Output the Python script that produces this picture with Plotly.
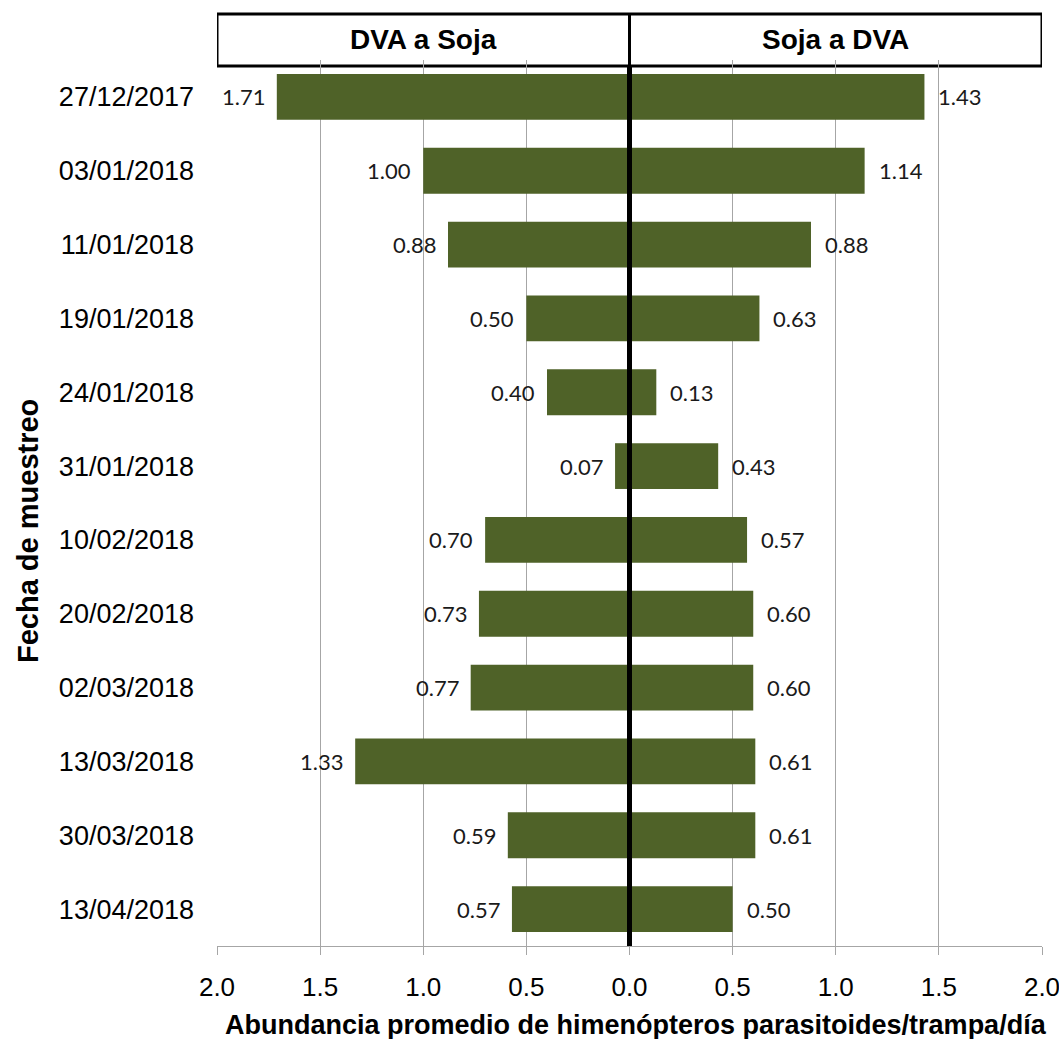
import plotly.graph_objects as go

fechas = ["27/12/2017", "03/01/2018", "11/01/2018", "19/01/2018", "24/01/2018",
          "31/01/2018", "10/02/2018", "20/02/2018", "02/03/2018", "13/03/2018",
          "30/03/2018", "13/04/2018"]
dva_a_soja = [1.71, 1.00, 0.88, 0.50, 0.40, 0.07, 0.70, 0.73, 0.77, 1.33, 0.59, 0.57]
soja_a_dva = [1.43, 1.14, 0.88, 0.63, 0.13, 0.43, 0.57, 0.60, 0.60, 0.61, 0.61, 0.50]
x_ticks = [-2.0, -1.5, -1.0, -0.5, 0.0, 0.5, 1.0, 1.5, 2.0]
x_ticktext = ["2.0", "1.5", "1.0", "0.5", "0.0", "0.5", "1.0", "1.5", "2.0"]

BAR = "#4F6228"
ARIAL = "Liberation Sans, Arial, sans-serif"
LABEL_FONT = dict(family="Lato, Open Sans, sans-serif", size=22, color="#1a1a1a")

W, H = 1059, 1039
L, R, T, B = 217, 17, 60, 93
plot_h = H - T - B
plot_w = W - L - R

fig = go.Figure()
fig.add_trace(go.Bar(y=fechas, x=[-v for v in dva_a_soja], orientation="h",
                     marker=dict(color=BAR, line=dict(width=0)), width=0.62,
                     name="DVA a Soja", hoverinfo="skip"))
fig.add_trace(go.Bar(y=fechas, x=soja_a_dva, orientation="h",
                     marker=dict(color=BAR, line=dict(width=0)), width=0.62,
                     name="Soja a DVA", hoverinfo="skip"))

annotations = []
for f, v in zip(fechas, dva_a_soja):
    annotations.append(dict(x=-v, y=f, xref="x", yref="y", text=f"{v:.2f}",
                            showarrow=False, xanchor="right", yanchor="middle",
                            xshift=-10, font=LABEL_FONT))
for f, v in zip(fechas, soja_a_dva):
    annotations.append(dict(x=v, y=f, xref="x", yref="y", text=f"{v:.2f}",
                            showarrow=False, xanchor="left", yanchor="middle",
                            xshift=12, font=LABEL_FONT))

# Header panel titles
hdr_top = 1 + (T - 14) / plot_h
hdr_bot = 1 - (66 - T) / plot_h
hdr_mid = 1 - (40 - T) / plot_h
annotations.append(dict(x=-1.0, y=hdr_mid, xref="x", yref="paper", text="<b>DVA a Soja</b>",
                        showarrow=False, xanchor="center", yanchor="middle",
                        font=dict(family=ARIAL, size=28, color="black")))
annotations.append(dict(x=1.0, y=hdr_mid, xref="x", yref="paper", text="<b>Soja a DVA</b>",
                        showarrow=False, xanchor="center", yanchor="middle",
                        font=dict(family=ARIAL, size=28, color="black")))

# Axis titles
annotations.append(dict(x=-(L - 28) / plot_w, y=1 - (531 - T) / plot_h,
                        xref="paper", yref="paper", text="<b>Fecha de muestreo</b>",
                        textangle=-90, showarrow=False, xanchor="center", yanchor="middle",
                        font=dict(family=ARIAL, size=29, color="black")))
annotations.append(dict(x=(636 - L) / plot_w, y=-(1025 - (H - B)) / plot_h,
                        xref="paper", yref="paper",
                        text="<b>Abundancia promedio de himenópteros parasitoides/trampa/día</b>",
                        showarrow=False, xanchor="center", yanchor="middle",
                        font=dict(family=ARIAL, size=27, color="black")))

shapes = [
    # header box
    dict(type="rect", xref="x", yref="paper", x0=-2.0, x1=2.0, y0=hdr_bot, y1=hdr_top,
         line=dict(color="black", width=3), fillcolor="white", layer="below"),
    dict(type="line", xref="x", yref="paper", x0=0, x1=0, y0=hdr_bot, y1=hdr_top,
         line=dict(color="black", width=3), layer="above"),
    # zero line through plot area
    dict(type="line", xref="x", yref="paper", x0=0, x1=0, y0=0, y1=hdr_bot,
         line=dict(color="black", width=5), layer="above"),
]

fig.update_layout(
    width=W, height=H,
    margin=dict(l=L, r=R, t=T, b=B, autoexpand=False),
    paper_bgcolor="white", plot_bgcolor="white",
    barmode="relative", bargap=0.38,
    showlegend=False,
    annotations=annotations,
    shapes=shapes,
    xaxis=dict(range=[-2.0, 2.0], tickvals=x_ticks, ticktext=x_ticktext,
               showgrid=True, gridcolor="#A6A6A6", gridwidth=1,
               zeroline=False, showline=True, linecolor="#A6A6A6", linewidth=1,
               ticks="outside", ticklen=8, tickcolor="#A6A6A6",
               tickfont=dict(family=ARIAL, size=26, color="black"),
               ticklabelstandoff=10, ticklabeloverflow="allow",
               automargin=False, fixedrange=True),
    yaxis=dict(categoryorder="array", categoryarray=fechas, autorange="reversed",
               showgrid=False, zeroline=False, showline=False, ticks="",
               tickfont=dict(family=ARIAL, size=27, color="black"),
               ticklabelstandoff=22, automargin=False, fixedrange=True),
)

fig.write_html("out.html", config={"displayModeBar": False})
